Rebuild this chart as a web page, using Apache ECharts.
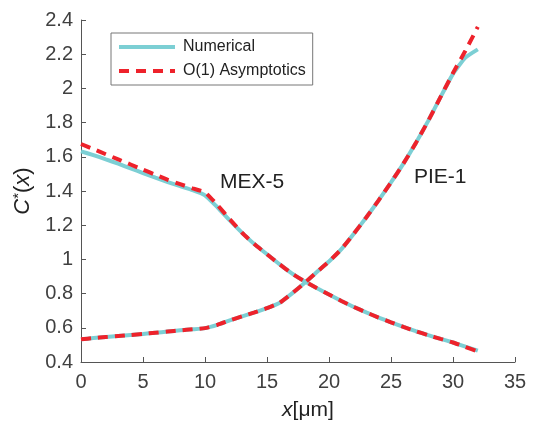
<!DOCTYPE html>
<html>
<head>
    <meta charset="UTF-8">
    <script src="https://cdn.jsdelivr.net/npm/echarts@6/dist/echarts.min.js"></script>
    <title>C*(x)</title>
    <style>
    html, body { margin: 0; padding: 0; background: #fff; }
    #chart { width: 534px; height: 421px; }
    </style>
</head>
<body>
    <div id="chart"></div>
    <script type="text/javascript">
    // x positions (um)
    var xs = [0, 1, 2, 3, 4, 5, 6, 7, 8, 9, 10, 11, 12, 13, 14, 15, 16,
              17, 18, 19, 20, 21, 22, 23, 24, 25, 26, 27, 28, 29, 30, 31, 32];
    // MEX-5
    var mexNum = [1.632, 1.61, 1.585, 1.56, 1.532, 1.505, 1.478, 1.452, 1.428, 1.405, 1.375,
                  1.305, 1.228, 1.155, 1.088, 1.03, 0.972, 0.918, 0.873, 0.833, 0.795,
                  0.757, 0.722, 0.69, 0.66, 0.632, 0.605, 0.58, 0.557, 0.535, 0.514, 0.49, 0.466];
    var mexAsym = [1.675, 1.645, 1.615, 1.585, 1.555, 1.525, 1.495, 1.465, 1.44, 1.415, 1.392,
                   1.318, 1.235, 1.155, 1.088, 1.03, 0.972, 0.918, 0.873, 0.833, 0.795,
                   0.757, 0.722, 0.69, 0.66, 0.632, 0.605, 0.58, 0.557, 0.535, 0.514, 0.488, 0.462];
    // PIE-1
    var pieNum = [0.533, 0.54, 0.546, 0.552, 0.558, 0.564, 0.571, 0.578, 0.585, 0.591, 0.598,
                  0.617, 0.643, 0.667, 0.69, 0.715, 0.745, 0.8, 0.86, 0.925, 0.988,
                  1.06, 1.15, 1.245, 1.345, 1.45, 1.56, 1.68, 1.81, 1.95, 2.085, 2.18, 2.228];
    var pieAsym = [0.533, 0.54, 0.546, 0.552, 0.558, 0.564, 0.571, 0.578, 0.585, 0.591, 0.598,
                   0.617, 0.643, 0.667, 0.69, 0.715, 0.745, 0.8, 0.86, 0.925, 0.988,
                   1.06, 1.15, 1.245, 1.345, 1.45, 1.56, 1.68, 1.81, 1.95, 2.09, 2.22, 2.36];
    var legendNames = ['Numerical', 'O(1) Asymptotics'];
    var labels = ['MEX-5', 'PIE-1'];

    var pairs = function(ys) {
        return xs.map(function(x, i) { return [x, ys[i]]; });
    };

    var font = '"Liberation Sans", Arial, Helvetica, sans-serif';
    var cyan = '#7ccfd4';
    var red = '#ee222b';
    var axisColor = '#555';

    var chart = echarts.init(document.getElementById('chart'));

    var numLine = { color: cyan, width: 4, type: 'solid' };
    var asyLine = { color: red, width: 4, type: [10, 7] };

    var mkLine = function(name, ys, ls, col, z) {
        return {
            name: name, type: 'line', data: pairs(ys),
            showSymbol: false, symbol: 'none',
            smooth: 0.15,
            lineStyle: ls, itemStyle: { color: col }, z: z
        };
    };

    var option = {
        animation: false,
        textStyle: { fontFamily: font },
        grid: { left: 81, right: 19, top: 20, bottom: 59, containLabel: false, outerBoundsMode: 'none' },
        legend: {
            data: legendNames,
            orient: 'vertical',
            left: 111,
            top: 33,
            padding: [6, 7, 6, 6],
            itemGap: 8,
            itemWidth: 56,
            itemHeight: 14,
            borderColor: '#777',
            borderWidth: 1,
            borderRadius: 0,
            itemStyle: { opacity: 0 },
            lineStyle: { width: 4 },
            textStyle: { fontSize: 16, color: '#222', fontFamily: font, padding: [0, 0, 0, 3] }
        },
        xAxis: {
            type: 'value',
            min: 0, max: 35, interval: 5,
            name: '{i|x}{n|[μm]}',
            nameLocation: 'middle',
            nameGap: 38,
            nameTextStyle: {
                padding: [0, 0, 0, 20],
                rich: {
                    i: { fontSize: 21, fontStyle: 'italic', color: '#222', fontFamily: font },
                    n: { fontSize: 21, color: '#222', fontFamily: font }
                }
            },
            axisLine: { lineStyle: { color: axisColor, width: 1 } },
            axisTick: { inside: true, length: 5, lineStyle: { color: axisColor } },
            axisLabel: { fontSize: 20, color: '#404040', margin: 10, fontFamily: font },
            splitLine: { show: false }
        },
        yAxis: {
            type: 'value',
            min: 0.4, max: 2.4, interval: 0.2,
            name: '{i|C}{s|*}{n|(}{i|x}{n|)}',
            nameLocation: 'middle',
            nameGap: 45,
            nameRotate: 90,
            nameTextStyle: {
                rich: {
                    i: { fontSize: 22, fontStyle: 'italic', color: '#222', fontFamily: font },
                    s: { fontSize: 15, color: '#222', fontFamily: font, verticalAlign: 'top', padding: [0, 0, 8, 0] },
                    n: { fontSize: 22, color: '#222', fontFamily: font }
                }
            },
            axisLine: { show: true, lineStyle: { color: axisColor, width: 1 } },
            axisTick: { show: true, inside: true, length: 5, lineStyle: { color: axisColor } },
            axisLabel: {
                fontSize: 20, color: '#404040', margin: 8, fontFamily: font,
                formatter: function(v) { return String(parseFloat(v.toFixed(1))); }
            },
            splitLine: { show: false }
        },
        graphic: [
            { type: 'text', left: 220, top: 172, style: { text: labels[0], fontSize: 21, fill: '#222', fontFamily: font } },
            { type: 'text', left: 414, top: 167, style: { text: labels[1], fontSize: 21, fill: '#222', fontFamily: font } }
        ],
        series: [
            mkLine(legendNames[0], mexNum, numLine, cyan, 2),
            mkLine(legendNames[0], pieNum, numLine, cyan, 2),
            mkLine(legendNames[1], mexAsym, asyLine, red, 3),
            mkLine(legendNames[1], pieAsym, asyLine, red, 3)
        ]
    };
    chart.setOption(option);
    </script>
</body>
</html>
